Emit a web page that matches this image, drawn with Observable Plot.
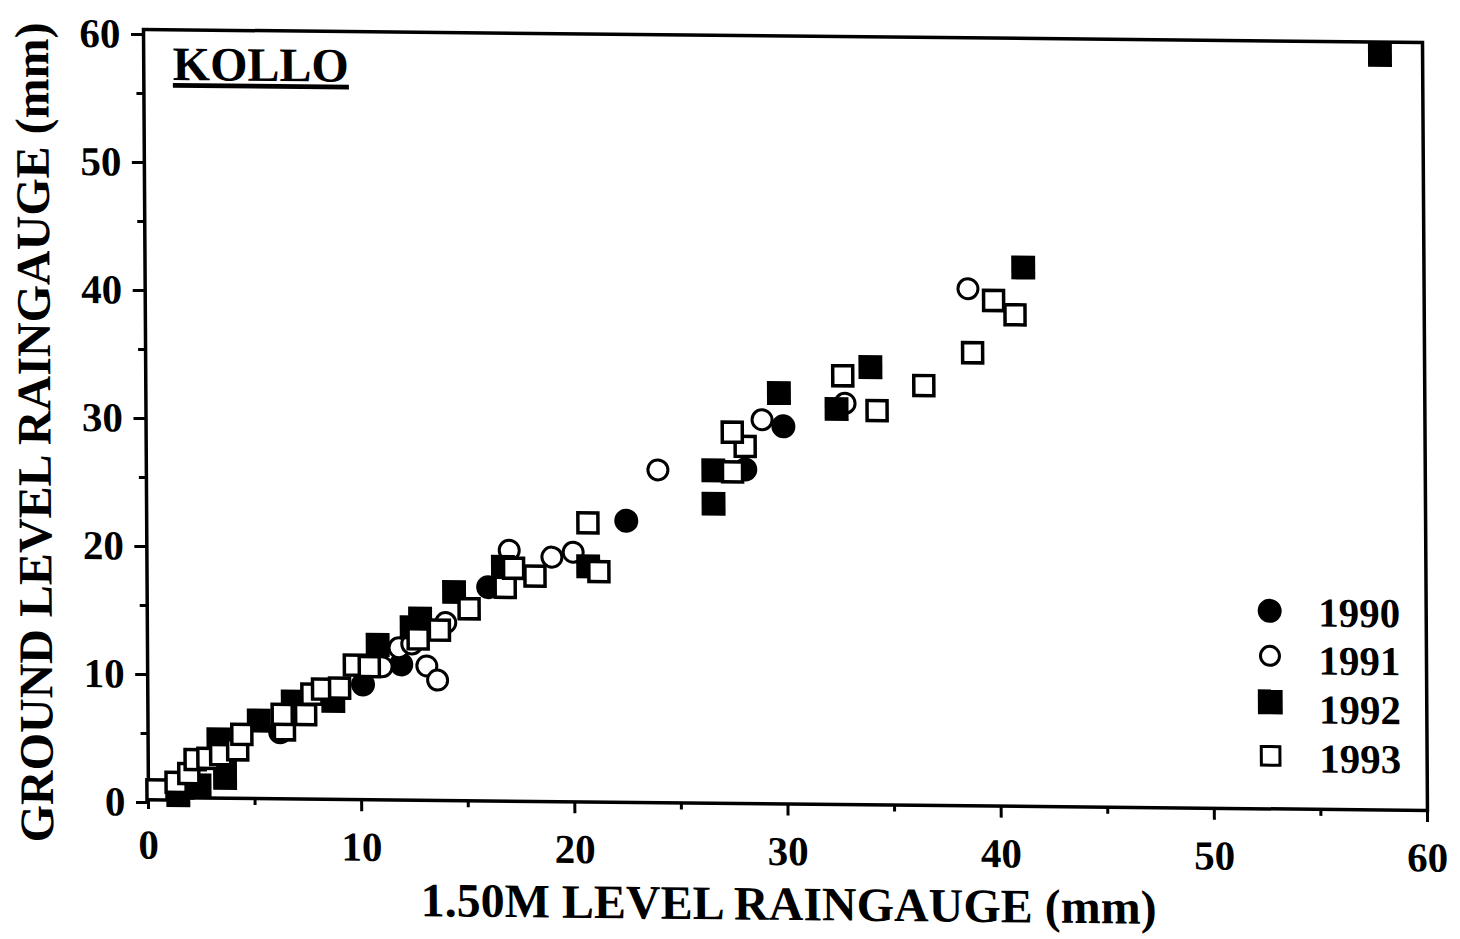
<!DOCTYPE html>
<html><head><meta charset="utf-8">
<script src="https://cdn.jsdelivr.net/npm/d3@7"></script>
<script src="https://cdn.jsdelivr.net/npm/@observablehq/plot@0.6"></script>
<style>
html,body{margin:0;padding:0;background:#fff;}
#chart svg{display:block;transform-origin:143px 29px;transform:skew(0.37deg,0.58deg);}
</style></head><body><div id="chart"></div>
<script>
const years = ["1990", "1991", "1992", "1993"];
const majorTicks = [0, 10, 20, 30, 40, 50, 60];
const minorTicks = [5, 15, 25, 35, 45, 55];
const stationName = "KOLLO";
const xTitle = "1.50M LEVEL RAINGAUGE (mm)";
const yTitle = "GROUND LEVEL RAINGAUGE (mm)";

const x1990 = [6.2, 10.1, 11.9, 16.0, 22.5, 28.1, 29.9];
const y1990 = [5.2, 9.0, 10.6, 16.7, 22.0, 26.1, 29.5];

const x1991 = [11.0, 11.8, 12.4, 13.1, 13.6, 14.0, 17.0, 19.0, 20.0, 24.0, 28.9, 32.8, 38.6];
const y1991 = [10.4, 11.9, 12.2, 10.5, 9.4, 13.9, 19.6, 19.1, 19.5, 26.0, 30.0, 31.35, 40.4];

const x1992 = [1.4, 1.6, 2.4, 3.6, 3.6, 3.3, 5.2, 6.8, 8.7, 10.8, 12.4, 12.8, 14.4, 16.7, 20.7, 26.6, 26.6, 29.7, 32.4, 34.0, 41.2, 58.0];
const y1992 = [0.2, 0.8, 1.0, 1.6, 3.2, 4.6, 6.1, 7.6, 7.7, 12.1, 13.5, 14.2, 16.3, 18.3, 18.4, 23.4, 26.0, 32.1, 30.9, 34.2, 42.1, 59.0];

const x1993 = [0.4, 1.3, 1.9, 2.2, 2.8, 3.4, 4.2, 4.4, 6.4, 6.3, 7.4, 7.7, 8.2, 9.0, 9.7, 10.4, 12.7, 13.7, 15.1, 16.8, 17.2, 18.2, 20.7, 21.2, 27.5, 28.1, 27.5, 32.7, 34.3, 36.5, 38.8, 39.8, 40.8];
const y1993 = [0.6, 1.2, 1.9, 3.0, 3.1, 3.4, 3.8, 5.0, 5.4, 6.6, 6.6, 8.2, 8.6, 8.7, 10.5, 10.4, 12.6, 13.3, 15.0, 16.7, 18.2, 17.6, 21.8, 18.0, 25.9, 27.9, 29.0, 33.5, 30.8, 32.8, 35.4, 39.5, 38.4];

const zip = (xs, ys) => xs.map((x, i) => ({x, y: ys[i]}));
const series = {
  "1990": zip(x1990, y1990),
  "1991": zip(x1991, y1991),
  "1992": zip(x1992, y1992),
  "1993": zip(x1993, y1993)
};

// marker styles per year
const markerStyle = {
  "1990": {symbol: "circle", r: 12, fill: "#000", stroke: "none"},
  "1991": {symbol: "circle", r: 10, fill: "#fff", stroke: "#000", strokeWidth: 3},
  "1992": {symbol: "square", r: 13.5, fill: "#000", stroke: "none"},
  "1993": {symbol: "square", r: 11.3, fill: "#fff", stroke: "#000", strokeWidth: 3.5}
};
const legendStyle = {
  "1990": {symbol: "circle", r: 12, fill: "#000", stroke: "none"},
  "1991": {symbol: "circle", r: 9.5, fill: "#fff", stroke: "#000", strokeWidth: 3},
  "1992": {symbol: "square", r: 14, fill: "#000", stroke: "none"},
  "1993": {symbol: "square", r: 10.5, fill: "#fff", stroke: "#000", strokeWidth: 3}
};
const legendSymbolDy = [570, 615, 661, 715];
const legendLabelDy = [572, 620, 669, 718];

const font = "'Liberation Serif', 'Times New Roman', serif";

const marks = [];
// minor and major ticks
marks.push(Plot.axisX(minorTicks, {tickSize: 7, strokeWidth: 3, text: null, label: null}));
marks.push(Plot.axisY(minorTicks, {tickSize: 7, strokeWidth: 3, text: null, label: null}));
marks.push(Plot.axisX(majorTicks, {tickSize: 12, tickPadding: 20, strokeWidth: 3, fontSize: 41, fontWeight: "bold", label: null}));
marks.push(Plot.axisY(majorTicks, {tickSize: 12, tickPadding: 11, strokeWidth: 3, fontSize: 41, fontWeight: "bold", dy: 5, label: null}));
marks.push(Plot.frame({stroke: "#000", strokeWidth: 3.5}));

for (const yr of years) {
  marks.push(Plot.dot(series[yr], {x: "x", y: "y", ...markerStyle[yr]}));
}

years.forEach((yr, i) => {
  marks.push(Plot.dot([yr], {frameAnchor: "top-left", dx: 1122.5, dy: legendSymbolDy[i], ...legendStyle[yr]}));
  marks.push(Plot.text([yr], {frameAnchor: "top-left", text: d => d, dx: 1171, dy: legendLabelDy[i], textAnchor: "start", lineAnchor: "middle", fontSize: 41, fontWeight: "bold", fill: "#000"}));
});

marks.push(Plot.text([stationName], {frameAnchor: "top-left", text: d => d, dx: 29, dy: 16, textAnchor: "start", lineAnchor: "top", fontSize: 48, fontWeight: "bold", fill: "#000"}));
marks.push(Plot.text([xTitle], {frameAnchor: "bottom", text: d => d, dy: 116, textAnchor: "middle", lineAnchor: "bottom", fontSize: 48, fontWeight: "bold", fill: "#000"}));
marks.push(Plot.text([yTitle], {frameAnchor: "left", text: d => d, dx: -95.6, dy: 20, rotate: -90, textAnchor: "middle", lineAnchor: "bottom", fontSize: 48, fontWeight: "bold", fill: "#000"}));

const chart = Plot.plot({
  width: 1460,
  height: 939,
  marginLeft: 143,
  marginRight: 38,
  marginTop: 29,
  marginBottom: 142,
  x: {domain: [0, 60]},
  y: {domain: [0, 60]},
  style: {fontFamily: font, fontWeight: "bold", color: "#000", background: "#fff", overflow: "visible"},
  marks
});

d3.select(chart).selectAll("text")
  .filter(function() { return this.textContent === stationName; })
  .attr("text-decoration", "underline")
  .style("text-decoration-thickness", "4px");

document.getElementById("chart").appendChild(chart);
</script>
</body></html>
